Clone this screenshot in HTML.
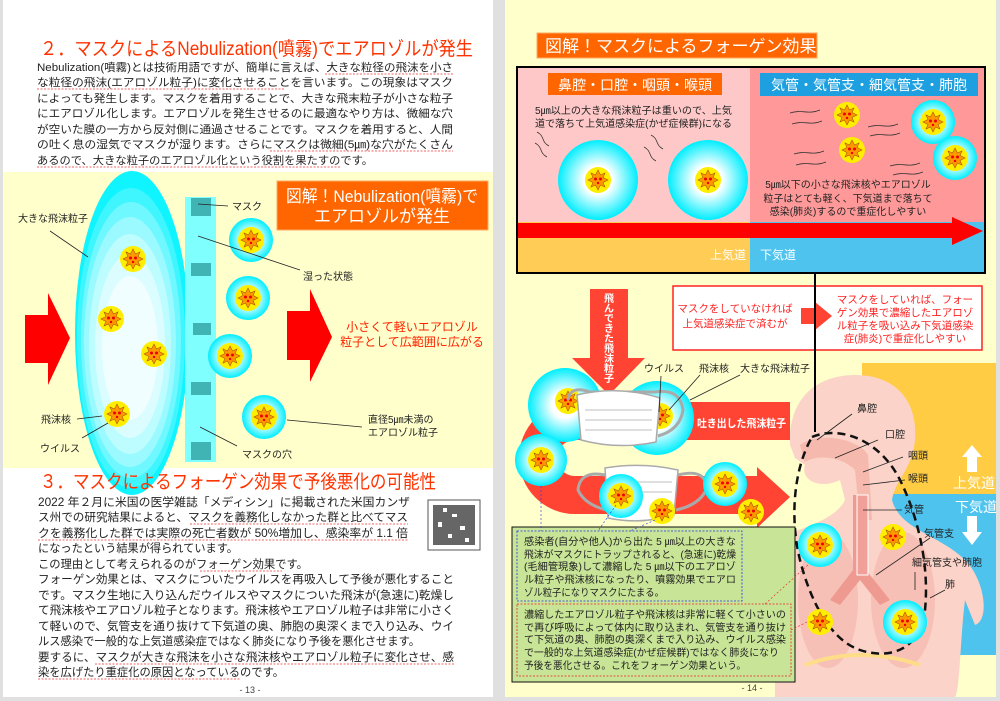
<!DOCTYPE html>
<html><head><meta charset="utf-8"><style>
html,body{margin:0;padding:0;background:#e0e0e0;}
svg{display:block;font-family:"Liberation Sans","Noto Sans CJK JP",sans-serif;}
</style></head><body>
<svg width="1000" height="701" viewBox="0 0 1000 701" xmlns="http://www.w3.org/2000/svg">
<defs>
<radialGradient id="drop" cx="50%" cy="50%" r="50%"><stop offset="0.35" stop-color="#ffffff"/><stop offset="1" stop-color="#00eeff"/></radialGradient>
<g id="vp"><circle r="13" fill="#ffee00"/><polygon points="0,-10 2.5,-5 7,-7 5,-2.5 10,0 5,2.5 7,7 2.5,5 0,10 -2.5,5 -7,7 -5,2.5 -10,0 -5,-2.5 -7,-7 -2.5,-5" fill="#ff9900" stroke="#aa5500" stroke-width="0.6"/><circle cx="-2.5" cy="-1" r="1.5" fill="#e00"/><circle cx="2.5" cy="-1" r="1.5" fill="#e00"/><circle cx="0" cy="3" r="1.2" fill="#e00"/></g>
<g id="rp"><circle r="22" fill="url(#drop)"/><use href="#vp"/></g>
</defs>
<rect x="3" y="0" width="490" height="697" fill="#fff"/>
<rect x="505" y="0" width="491" height="697" fill="#ffffcc"/>

<!-- LEFT PAGE -->
<text x="40" y="55" font-size="19" fill="#ff3300" textLength="433" lengthAdjust="spacingAndGlyphs">２．マスクによるNebulization(噴霧)でエアロゾルが発生</text>
<g font-size="11" fill="#222">
<text x="37" y="71" textLength="416" lengthAdjust="spacingAndGlyphs">Nebulization(噴霧)とは技術用語ですが、簡単に言えば、大きな粒径の飛沫を小さ</text>
<text x="37" y="86" textLength="416" lengthAdjust="spacingAndGlyphs">な粒径の飛沫(エアロゾル粒子)に変化させることを言います。この現象はマスク</text>
<text x="37" y="102" textLength="416" lengthAdjust="spacingAndGlyphs">によっても発生します。マスクを着用することで、大きな飛末粒子が小さな粒子</text>
<text x="37" y="117" textLength="416" lengthAdjust="spacingAndGlyphs">にエアロゾル化します。エアロゾルを発生させるのに最適なやり方は、微細な穴</text>
<text x="37" y="133" textLength="416" lengthAdjust="spacingAndGlyphs">が空いた膜の一方から反対側に通過させることです。マスクを着用すると、人間</text>
<text x="37" y="148" textLength="416" lengthAdjust="spacingAndGlyphs">の吐く息の湿気でマスクが湿ります。さらにマスクは微細(5㎛)な穴がたくさん</text>
<text x="37" y="164" textLength="336" lengthAdjust="spacingAndGlyphs">あるので、大きな粒子のエアロゾル化という役割を果たすのです。</text>
</g>
<g stroke="#e33" stroke-width="0.8" fill="none" stroke-dasharray="2,1.5">
<line x1="325" y1="74" x2="453" y2="74"/><line x1="37" y1="89" x2="285" y2="89"/><line x1="270" y1="151" x2="453" y2="151"/><line x1="37" y1="167" x2="340" y2="167"/>
</g>
<rect x="3" y="172" width="490" height="296" fill="#ffffcc"/>
<polygon points="25,315 48,315 48,293 70,338 48,385 48,363 25,363" fill="#ff0000"/>
<ellipse cx="132" cy="333" rx="57" ry="162" fill="#10f4ff"/>
<g fill="#ffffff">
<ellipse cx="131" cy="338" rx="54" ry="150" opacity="0.2"/>
<ellipse cx="131" cy="340" rx="50" ry="138" opacity="0.25"/>
<ellipse cx="130" cy="342" rx="46" ry="125" opacity="0.3"/>
<ellipse cx="130" cy="344" rx="41" ry="110" opacity="0.35"/>
<ellipse cx="130" cy="346" rx="35" ry="92" opacity="0.45"/>
<ellipse cx="130" cy="348" rx="28" ry="72" opacity="0.6"/>
</g>
<rect x="185" y="197" width="31" height="265" fill="#80ffff"/>
<g fill="#40b4b4"><rect x="191" y="198" width="20" height="18"/><rect x="191" y="263" width="20" height="13"/><rect x="193" y="323" width="18" height="12"/><rect x="191" y="382" width="20" height="13"/><rect x="191" y="442" width="20" height="18"/></g>
<polygon points="287,311 310,311 310,289 332,337 310,382 310,360 287,360" fill="#ff0000"/>
<rect x="277" y="181" width="211" height="49" fill="#ff6600" stroke="#ffaa66"/>
<text x="382" y="202" font-size="17" fill="#fff" text-anchor="middle" textLength="192" lengthAdjust="spacingAndGlyphs">図解！Nebulization(噴霧)で</text>
<text x="382" y="222" font-size="17" fill="#fff" text-anchor="middle">エアロゾルが発生</text>
<use href="#vp" x="133" y="259"/><use href="#vp" x="111" y="319"/><use href="#vp" x="154" y="354"/><use href="#vp" x="117" y="414"/>
<use href="#rp" x="251" y="240"/><use href="#rp" x="248" y="298"/><use href="#rp" x="230" y="356"/><use href="#rp" x="264" y="417"/>
<g stroke="#222" stroke-width="0.8">
<line x1="50" y1="231" x2="88" y2="257"/><line x1="198" y1="204" x2="228" y2="206"/><line x1="198" y1="236" x2="300" y2="270"/>
<line x1="77" y1="419" x2="102" y2="416"/><line x1="82" y1="438" x2="108" y2="423"/><line x1="200" y1="427" x2="237" y2="446"/><line x1="287" y1="420" x2="362" y2="427"/>
</g>
<g font-size="10" fill="#222">
<text x="18" y="222">大きな飛沫粒子</text><text x="232" y="210">マスク</text><text x="303" y="280">湿った状態</text>
<text x="41" y="423">飛沫核</text><text x="40" y="452">ウイルス</text><text x="242" y="458">マスクの穴</text>
<text x="368" y="423">直径5㎛未満の</text><text x="368" y="436">エアロゾル粒子</text>
</g>
<text x="412" y="331" font-size="12" fill="#ff2200" text-anchor="middle">小さくて軽いエアロゾル</text>
<text x="412" y="346" font-size="12" fill="#ff2200" text-anchor="middle">粒子として広範囲に広がる</text>

<text x="40" y="488" font-size="19" fill="#ff3300" textLength="396" lengthAdjust="spacingAndGlyphs">３．マスクによるフォーゲン効果で予後悪化の可能性</text>
<g font-size="11.5" fill="#222">
<text x="38" y="506" textLength="372" lengthAdjust="spacingAndGlyphs">2022 年２月に米国の医学雑誌「メディシン」に掲載された米国カンザ</text>
<text x="38" y="521" textLength="370" lengthAdjust="spacingAndGlyphs">ス州での研究結果によると、マスクを義務化しなかった群と比べてマス</text>
<text x="38" y="537" textLength="370" lengthAdjust="spacingAndGlyphs">クを義務化した群では実際の死亡者数が 50%増加し、感染率が 1.1 倍</text>
<text x="38" y="552" textLength="200" lengthAdjust="spacingAndGlyphs">になったという結果が得られています。</text>
<text x="38" y="568" textLength="270" lengthAdjust="spacingAndGlyphs">この理由として考えられるのがフォーゲン効果です。</text>
<text x="38" y="583" textLength="416" lengthAdjust="spacingAndGlyphs">フォーゲン効果とは、マスクについたウイルスを再吸入して予後が悪化すること</text>
<text x="38" y="599" textLength="416" lengthAdjust="spacingAndGlyphs">です。マスク生地に入り込んだウイルスやマスクについた飛沫が(急速に)乾燥し</text>
<text x="38" y="614" textLength="416" lengthAdjust="spacingAndGlyphs">て飛沫核やエアロゾル粒子となります。飛沫核やエアロゾル粒子は非常に小さく</text>
<text x="38" y="630" textLength="416" lengthAdjust="spacingAndGlyphs">て軽いので、気管支を通り抜けて下気道の奥、肺胞の奥深くまで入り込み、ウイ</text>
<text x="38" y="645" textLength="382" lengthAdjust="spacingAndGlyphs">ルス感染で一般的な上気道感染症ではなく肺炎になり予後を悪化させます。</text>
<text x="38" y="661" textLength="416" lengthAdjust="spacingAndGlyphs">要するに、マスクが大きな飛沫を小さな飛沫核やエアロゾル粒子に変化させ、感</text>
<text x="38" y="676" textLength="246" lengthAdjust="spacingAndGlyphs">染を広げたり重症化の原因となっているのです。</text>
</g>
<g stroke="#e33" stroke-width="0.8" fill="none" stroke-dasharray="2,1.5">
<line x1="190" y1="524" x2="408" y2="524"/><line x1="38" y1="540" x2="408" y2="540"/><line x1="200" y1="571" x2="282" y2="571"/><line x1="95" y1="664" x2="454" y2="664"/><line x1="38" y1="679" x2="240" y2="679"/>
</g>
<rect x="428" y="500" width="52" height="50" fill="#fff" stroke="#555"/>
<rect x="433" y="505" width="42" height="40" fill="#666"/>
<g fill="#fff"><rect x="443" y="508" width="4" height="4"/><rect x="452" y="514" width="5" height="3"/><rect x="438" y="522" width="4" height="5"/><rect x="460" y="526" width="5" height="4"/><rect x="448" y="534" width="4" height="4"/><rect x="465" y="538" width="4" height="4"/></g>
<text x="250" y="693" font-size="9" fill="#444" text-anchor="middle">- 13 -</text>

<!-- RIGHT PAGE -->
<rect x="537" y="33" width="280" height="25" fill="#ff6600" stroke="#ffaa66"/>
<text x="545" y="52" font-size="17" fill="#fff">図解！マスクによるフォーゲン効果</text>
<rect x="517" y="67" width="233" height="155" fill="#ffc8c8"/>
<rect x="750" y="67" width="235" height="155" fill="#ff9999"/>
<rect x="517" y="222" width="233" height="50" fill="#ffcc55"/>
<rect x="750" y="222" width="235" height="50" fill="#4dc3ee"/>
<polygon points="517,223 952,223 952,217 983,231 952,245 952,238 517,238" fill="#ff0000"/>
<rect x="517" y="67" width="468" height="206" fill="none" stroke="#000" stroke-width="2"/>
<text x="710" y="259" font-size="12" fill="#fff">上気道</text>
<text x="760" y="259" font-size="12" fill="#fff">下気道</text>
<rect x="548" y="73" width="174" height="22" fill="#ff6600"/>
<text x="635" y="90" font-size="14" fill="#fff" text-anchor="middle">鼻腔・口腔・咽頭・喉頭</text>
<rect x="760" y="73" width="218" height="23" fill="#1ea0e0"/>
<text x="869" y="90" font-size="14" fill="#fff" text-anchor="middle">気管・気管支・細気管支・肺胞</text>
<text x="535" y="114" font-size="10" fill="#222" textLength="197" lengthAdjust="spacingAndGlyphs">5㎛以上の大きな飛沫粒子は重いので、上気</text>
<text x="535" y="127" font-size="10" fill="#222" textLength="197" lengthAdjust="spacingAndGlyphs">道で落ちて上気道感染症(かぜ症候群)になる</text>
<g fill="none" stroke="#333" stroke-width="0.8">
<path d="M537,132 c8,4 4,10 12,14"/><path d="M535,143 c8,4 4,10 12,14"/><path d="M651,135 c8,4 4,10 12,14"/><path d="M644,147 c8,4 4,10 12,14"/>
<path d="M790,113 c12,-4 18,2 30,-3"/><path d="M792,124 c12,-4 18,2 30,-3"/><path d="M868,127 c12,-4 18,2 30,-3"/><path d="M870,136 c12,-4 18,2 30,-3"/><path d="M794,154 c12,-4 18,2 30,-3"/><path d="M796,165 c12,-4 18,2 30,-3"/><path d="M890,166 c12,-4 18,2 30,-3"/><path d="M893,175 c12,-4 18,2 30,-3"/>
</g>
<circle cx="598" cy="180" r="40" fill="url(#drop)"/><use href="#vp" x="598" y="180"/>
<circle cx="708" cy="180" r="40" fill="url(#drop)"/><use href="#vp" x="708" y="180"/>
<use href="#vp" x="847" y="115"/><use href="#vp" x="852" y="150"/>
<use href="#rp" x="933" y="122"/><use href="#rp" x="955" y="158"/>
<g font-size="10" fill="#222" text-anchor="middle"><text x="848" y="188">5㎛以下の小さな飛沫核やエアロゾル</text><text x="848" y="202">粒子はとても軽く、下気道まで落ちて</text><text x="848" y="215">感染(肺炎)するので重症化しやすい</text></g>

<!-- body -->
<rect x="862" y="363" width="134" height="132" fill="#ffcc44"/>
<rect x="888" y="494" width="108" height="161" fill="#4dc3ee"/>
<path d="M790,445 C788,395 820,375 855,375 C895,375 918,400 915,440 C912,470 895,480 892,500 C900,530 940,535 965,560 C985,580 990,620 975,625 L965,600 C960,640 960,690 955,697 L775,697 L775,620 L745,640 L745,560 C770,530 830,530 845,500 L840,480 C820,490 800,480 805,465 L795,458 Z" fill="#fbd3c8"/>
<path d="M800,445 C820,430 860,440 868,455 L872,520 L860,520 L855,470 C840,455 815,455 805,462 Z" fill="#f3aea3" opacity="0.7"/>
<ellipse cx="828" cy="600" rx="30" ry="68" fill="#f7c0b6"/><ellipse cx="903" cy="600" rx="32" ry="68" fill="#f7c0b6"/>
<path d="M853,495 L866,495 L866,570 L890,600 L880,605 L860,580 L840,605 L830,600 L853,570 Z" fill="#ee9a90"/>
<rect x="857" y="495" width="11" height="80" fill="#f0a098" stroke="#fff" stroke-width="1"/>
<path d="M805,665 Q860,645 920,665" stroke="#ffdd88" stroke-width="4" fill="none"/>
<path d="M812,437 C840,425 880,440 900,480 C915,510 930,560 925,610 C920,650 890,660 860,650 C830,640 810,600 800,560 C790,520 793,470 812,437 Z" fill="none" stroke="#111" stroke-width="2.5" stroke-dasharray="8,5"/>
<polygon points="972,445 982,457 977,457 977,472 967,472 967,457 962,457" fill="#fff"/>
<polygon points="967,516 977,516 977,532 982,532 972,545 962,532 967,532" fill="#fff"/>
<text x="953" y="488" font-size="14" fill="#fff">上気道</text>
<text x="955" y="512" font-size="14" fill="#fff">下気道</text>
<g stroke="#222" stroke-width="0.8">
<line x1="817" y1="440" x2="852" y2="414"/><line x1="835" y1="458" x2="878" y2="440"/><line x1="863" y1="472" x2="903" y2="457"/><line x1="863" y1="485" x2="905" y2="480"/>
<line x1="863" y1="510" x2="902" y2="510"/><line x1="876" y1="575" x2="930" y2="538"/><line x1="915" y1="572" x2="915" y2="590"/><line x1="930" y1="598" x2="945" y2="590"/>
</g>
<g font-size="10" fill="#222"><text x="857" y="412">鼻腔</text><text x="885" y="438">口腔</text><text x="908" y="459">咽頭</text><text x="908" y="482">喉頭</text><text x="904" y="513">気管</text><text x="924" y="537">気管支</text><text x="912" y="566">細気管支や肺胞</text><text x="945" y="588">肺</text></g>
<use href="#rp" x="820" y="545"/><use href="#vp" x="893" y="537"/><use href="#vp" x="820" y="622"/><use href="#rp" x="905" y="622"/>

<!-- red info box -->
<rect x="673" y="286" width="309" height="64" fill="#fff" stroke="#ff2222" stroke-width="1.5"/>
<g font-size="10.5" fill="#ff2222" text-anchor="middle"><text x="735" y="312">マスクをしていなければ</text><text x="735" y="327">上気道感染症で済むが</text>
<text x="905" y="303">マスクをしていれば、フォー</text><text x="905" y="316">ゲン効果で濃縮したエアロゾ</text><text x="905" y="329">ル粒子を吸い込み下気道感染</text><text x="905" y="342">症(肺炎)で重症化しやすい</text></g>
<polygon points="801,308 815,308 815,302 832,316 815,330 815,324 801,324" fill="#ff4433"/>
<line x1="815" y1="273" x2="815" y2="432" stroke="#000" stroke-width="2"/>

<!-- U arrow -->
<path d="M790,421 H575 A37,37 0 0 0 575,495 H765" fill="none" stroke="#ff4433" stroke-width="38"/>
<polygon points="757,467 790,497 757,528" fill="#ff4433"/>
<polygon points="590,289 628,289 628,358 645,358 609,395 572,358 590,358" fill="#ff4433"/>
<g font-size="10" fill="#fff" font-weight="bold" text-anchor="middle">
<text x="609" y="302">飛</text><text x="609" y="312">ん</text><text x="609" y="322">で</text><text x="609" y="332">き</text><text x="609" y="342">た</text><text x="609" y="352">飛</text><text x="609" y="362">沫</text><text x="609" y="372">粒</text><text x="609" y="382">子</text>
</g>
<text x="697" y="427" font-size="11" fill="#fff" font-weight="bold" textLength="89" lengthAdjust="spacingAndGlyphs">吐き出した飛沫粒子</text>
<circle cx="565" cy="405" r="37" fill="url(#drop)"/><use href="#vp" x="568" y="401"/>
<circle cx="657" cy="418" r="37" fill="url(#drop)"/><use href="#vp" x="660" y="416"/>
<path d="M568,400 Q570,385 590,392 L655,392 Q680,388 683,410 Q680,430 658,436" fill="none" stroke="#aaa" stroke-width="3"/>
<path d="M577,395 Q618,385 660,398 L656,442 Q618,450 581,440 Z" fill="#fff" stroke="#aaa" stroke-width="1.5"/>
<g stroke="#ccc" stroke-width="1.2"><line x1="585" y1="410" x2="652" y2="410"/><line x1="585" y1="420" x2="652" y2="420"/><line x1="585" y1="430" x2="652" y2="430"/></g>
<circle cx="541" cy="460" r="26" fill="url(#drop)"/><use href="#vp" x="541" y="460"/>
<path d="M605,475 Q580,470 578,490 Q585,505 607,510 M678,475 Q705,468 707,488 Q700,505 676,510" fill="none" stroke="#aaa" stroke-width="3"/>
<path d="M605,468 Q642,462 678,470 L674,515 Q640,525 608,518 Z" fill="#fff" stroke="#aaa" stroke-width="1.5"/>
<g stroke="#ccc" stroke-width="1.2"><line x1="612" y1="482" x2="672" y2="482"/><line x1="612" y1="492" x2="672" y2="492"/></g>
<use href="#rp" x="621" y="496"/><use href="#vp" x="662" y="511"/><use href="#rp" x="725" y="484"/><use href="#vp" x="751" y="512"/>
<g stroke="#222" stroke-width="0.8"><line x1="661" y1="376" x2="659" y2="412"/><line x1="700" y1="375" x2="669" y2="410"/><line x1="740" y1="375" x2="690" y2="400"/></g>
<g font-size="10" fill="#222"><text x="644" y="372">ウイルス</text><text x="699" y="372">飛沫核</text><text x="740" y="372">大きな飛沫粒子</text></g>

<!-- green box -->
<rect x="512" y="527" width="283" height="155" fill="#c8e496" stroke="#111" stroke-width="1"/>
<rect x="517" y="531" width="225" height="70" fill="none" stroke="#2233ee" stroke-width="0.8" stroke-dasharray="2,1.5"/>
<rect x="517" y="604" width="274" height="72" fill="none" stroke="#ee2222" stroke-width="0.8" stroke-dasharray="2,1.5"/>
<g stroke-width="0.6" stroke-dasharray="2,2" fill="none"><line x1="541" y1="486" x2="541" y2="531" stroke="#2233ee"/><line x1="616" y1="505" x2="598" y2="531" stroke="#2233ee"/><line x1="655" y1="520" x2="630" y2="531" stroke="#2233ee"/><line x1="808" y1="565" x2="765" y2="604" stroke="#ee2222"/><line x1="807" y1="622" x2="791" y2="630" stroke="#ee2222"/></g>
<g font-size="10.3" fill="#222">
<text x="524" y="545" textLength="212" lengthAdjust="spacingAndGlyphs">感染者(自分や他人)から出た 5 ㎛以上の大きな</text>
<text x="524" y="558" textLength="212" lengthAdjust="spacingAndGlyphs">飛沫がマスクにトラップされると、(急速に)乾燥</text>
<text x="524" y="570" textLength="212" lengthAdjust="spacingAndGlyphs">(毛細管現象)して濃縮した 5 ㎛以下のエアロゾ</text>
<text x="524" y="583" textLength="212" lengthAdjust="spacingAndGlyphs">ル粒子や飛沫核になったり、噴霧効果でエアロ</text>
<text x="524" y="596" textLength="140" lengthAdjust="spacingAndGlyphs">ゾル粒子になりマスクにたまる。</text>
<text x="524" y="618" textLength="262" lengthAdjust="spacingAndGlyphs">濃縮したエアロゾル粒子や飛沫核は非常に軽くて小さいの</text>
<text x="524" y="631" textLength="262" lengthAdjust="spacingAndGlyphs">で再び呼吸によって体内に取り込まれ、気管支を通り抜け</text>
<text x="524" y="643" textLength="262" lengthAdjust="spacingAndGlyphs">て下気道の奥、肺胞の奥深くまで入り込み、ウイルス感染</text>
<text x="524" y="656" textLength="255" lengthAdjust="spacingAndGlyphs">で一般的な上気道感染症(かぜ症候群)ではなく肺炎になり</text>
<text x="524" y="669" textLength="222" lengthAdjust="spacingAndGlyphs">予後を悪化させる。これをフォーゲン効果という。</text>
</g>
<text x="752" y="691" font-size="9" fill="#444" text-anchor="middle">- 14 -</text>
</svg>
</body></html>
